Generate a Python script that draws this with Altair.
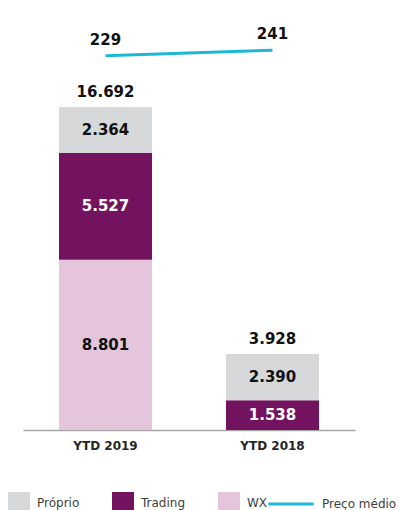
import altair as alt
import pandas as pd

categories = ["YTD 2019", "YTD 2018"]
series = ["WX", "Trading", "Próprio"]
proprio = [2364, 2390]
trading = [5527, 1538]
wx = [8801, 0]
totals = [16692, 3928]
preco = [229, 241]

colors = {"Próprio": "#D7D8DA", "Trading": "#73135F", "WX": "#E4C5DC"}
line_color = "#1DB8D6"
font = "DejaVu Sans"


def fmt(v):
    return f"{v:,}".replace(",", ".")


rows = []
for i, c in enumerate(categories):
    for order, (s, vals) in enumerate([("WX", wx), ("Trading", trading), ("Próprio", proprio)]):
        rows.append({"cat": c, "serie": s, "value": vals[i], "order": order, "label": fmt(vals[i])})
bars_df = pd.DataFrame(rows)

tot_df = pd.DataFrame({"cat": categories, "total": totals, "label": [fmt(v) for v in totals]})
line_df = pd.DataFrame({"cat": categories, "preco": preco, "label": [str(v) for v in preco],
                        "serie": ["Preço médio"] * 2})

x_enc = alt.X("cat:N", sort=categories,
              scale=alt.Scale(paddingInner=0.443, paddingOuter=0.2155),
              axis=alt.Axis(title=None, labelAngle=0, ticks=False, labelFont=font,
                            labelFontWeight="bold", labelFontSize=12, labelColor="#262626",
                            labelPadding=10, domainColor="#A6A6A6", domainWidth=1.5,
                            grid=False))
y_scale = alt.Scale(domain=[0, 21188], nice=False, zero=True)

bars = alt.Chart(bars_df).mark_bar().encode(
    x=x_enc,
    y=alt.Y("value:Q", stack="zero", scale=y_scale, axis=None),
    color=alt.Color("serie:N", scale=alt.Scale(domain=["Próprio", "Trading", "WX"],
                                               range=[colors["Próprio"], colors["Trading"], colors["WX"]]),
                    legend=alt.Legend(orient="none", legendX=-15, legendY=472, direction="horizontal",
                                      title=None, symbolType="square", symbolSize=484,
                                      symbolStrokeWidth=0, labelOffset=7, columnPadding=32,
                                      labelFont=font, labelFontSize=12, labelColor="#404040")),
    order=alt.Order("order:Q"),
)

seg_labels = alt.Chart(bars_df).transform_filter("datum.value > 0").transform_stack(
    stack="value", groupby=["cat"], as_=["y0", "y1"], sort=[alt.SortField("order")]
).transform_calculate(mid="(datum.y0 + datum.y1) / 2").mark_text(
    font=font, fontWeight="bold", fontSize=15, baseline="middle"
).encode(
    x=alt.X("cat:N", sort=categories),
    y=alt.Y("mid:Q", scale=y_scale, axis=None),
    text="label:N",
    color=alt.condition("datum.serie == 'Trading'", alt.value("white"), alt.value("#111111")),
)

tot_labels = alt.Chart(tot_df).mark_text(
    font=font, fontWeight="bold", fontSize=15, baseline="bottom", dy=-7, color="#111111"
).encode(
    x=alt.X("cat:N", sort=categories),
    y=alt.Y("total:Q", scale=y_scale, axis=None),
    text="label:N",
)

bar_layer = alt.layer(bars, seg_labels, tot_labels)

line_scale = alt.Scale(domain=[-589, 307], nice=False, zero=False)
line = alt.Chart(line_df).mark_line(strokeWidth=3).encode(
    x=alt.X("cat:N", sort=categories),
    y=alt.Y("preco:Q", scale=line_scale, axis=None),
    stroke=alt.Stroke("serie:N", scale=alt.Scale(domain=["Preço médio"], range=[line_color]),
                      legend=alt.Legend(orient="none", legendX=244, legendY=460, title=None,
                                        symbolType="stroke", symbolSize=2025, symbolStrokeWidth=3,
                                        labelOffset=7, labelFont=font, labelFontSize=12,
                                        labelColor="#404040")),
)
line_labels = alt.Chart(line_df).mark_text(
    font=font, fontWeight="bold", fontSize=15, baseline="bottom", dy=-8, color="#111111"
).encode(
    x=alt.X("cat:N", sort=categories),
    y=alt.Y("preco:Q", scale=line_scale, axis=None),
    text="label:N",
)
line_layer = alt.layer(line, line_labels)

chart = alt.layer(bar_layer, line_layer).resolve_scale(
    y="independent"
).properties(
    width=332, height=410,
    background="white",
    autosize=alt.AutoSizeParams(type="none"),
    padding={"left": 15, "top": 12, "right": 41, "bottom": 80},
).configure_view(strokeWidth=0, stroke=None)

chart.save("out.html", embed_options={"renderer": "svg", "actions": False})
